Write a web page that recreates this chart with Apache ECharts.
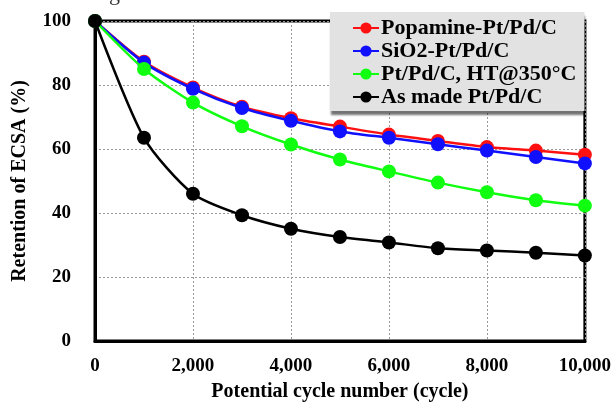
<!DOCTYPE html>
<html>
<head>
<meta charset="utf-8">
<script src="https://cdn.jsdelivr.net/npm/echarts@6/dist/echarts.min.js"></script>
<style>
html,body{margin:0;padding:0;background:#fff;}
#chart{width:614px;height:407px;}
</style>
</head>
<body>
<div id="chart"></div>
<script>
const cycles = [0, 1000, 2000, 3000, 4000, 5000, 6000, 7000, 8000, 9000, 10000];
const popamine = [100, 87.3, 79.2, 73.2, 69.6, 67.0, 64.5, 62.5, 60.6, 59.5, 58.2];
const sio2 = [100, 87.0, 78.8, 72.8, 68.8, 65.5, 63.5, 61.5, 59.5, 57.5, 55.5];
const htPtPd = [100, 85.0, 74.5, 67.1, 61.4, 56.7, 53.0, 49.5, 46.5, 44.0, 42.3];
const asMade = [100, 63.5, 46.0, 39.3, 35.1, 32.5, 30.8, 29.0, 28.3, 27.6, 26.7];
const seriesNames = ['Popamine-Pt/Pd/C', 'SiO2-Pt/Pd/C', 'Pt/Pd/C, HT@350°C', 'As made Pt/Pd/C'];
const seriesColors = ['#ff1010', '#1010ff', '#10ff10', '#000000'];
const yTicks = [0, 20, 40, 60, 80, 100];
const xTicks = [0, 2000, 4000, 6000, 8000, 10000];

const FONT = '"Liberation Serif", "Times New Roman", serif';
const allData = [popamine, sio2, htPtPd, asMade];

const chart = echarts.init(document.getElementById('chart'), null, {renderer: 'canvas'});
const series = allData.map((vals, i) => ({
  name: seriesNames[i],
  type: 'line',
  data: cycles.map((c, k) => [c, vals[k]]),
  smooth: 0.25,
  symbol: 'circle',
  symbolSize: 14,
  showSymbol: true,
  clip: false,
  itemStyle: {color: seriesColors[i]},
  lineStyle: {color: seriesColors[i], width: 2.5},
  z: 3 + i
}));

chart.setOption({
  animation: false,
  backgroundColor: '#ffffff',
  grid: {
    left: 95, right: 25, top: 21, bottom: 64,
    show: true, borderColor: '#000', borderWidth: 3, backgroundColor: 'transparent'
  },
  graphic: [{
    type: 'text', left: 40, top: -17,
    style: {text: 'e coatings.', font: '22px ' + FONT, fill: '#333'}
  }],
  legend: {
    data: seriesNames,
    orient: 'vertical',
    left: 330, top: 12,
    padding: [5, 8, 3, 22],
    itemGap: 1,
    itemWidth: 26,
    itemHeight: 14,
    backgroundColor: '#e2e2e2',
    shadowColor: 'rgba(0,0,0,0.55)',
    shadowBlur: 2,
    shadowOffsetX: 1,
    shadowOffsetY: 4,
    textStyle: {fontFamily: FONT, fontWeight: 'bold', fontSize: 22, color: '#000', padding: [0, 0, 0, -3], lineHeight: 22}
  },
  xAxis: {
    type: 'value', min: 0, max: 10000, interval: 2000,
    name: 'Potential cycle number (cycle)',
    nameLocation: 'middle', nameGap: 41,
    nameTextStyle: {fontFamily: FONT, fontWeight: 'bold', fontSize: 20, color: '#000'},
    axisLine: {show: true, lineStyle: {color: '#000', width: 3}},
    axisTick: {show: false},
    axisLabel: {
      fontFamily: FONT, fontWeight: 'bold', fontSize: 19, color: '#000', margin: 16,
      formatter: v => v.toLocaleString('en-US')
    },
    splitLine: {show: true, lineStyle: {color: '#999', type: [2, 2], width: 1}}
  },
  yAxis: {
    type: 'value', min: 0, max: 100, interval: 20,
    name: 'Retention of ECSA (%)',
    nameLocation: 'middle', nameGap: 65,
    nameTextStyle: {fontFamily: FONT, fontWeight: 'bold', fontSize: 20, color: '#000'},
    axisLine: {show: true, lineStyle: {color: '#000', width: 3}},
    axisTick: {show: false},
    axisLabel: {fontFamily: FONT, fontWeight: 'bold', fontSize: 19, color: '#000', margin: 24},
    splitLine: {show: true, lineStyle: {color: '#999', type: [2, 2], width: 1}}
  },
  series: series
});
</script>
</body>
</html>
